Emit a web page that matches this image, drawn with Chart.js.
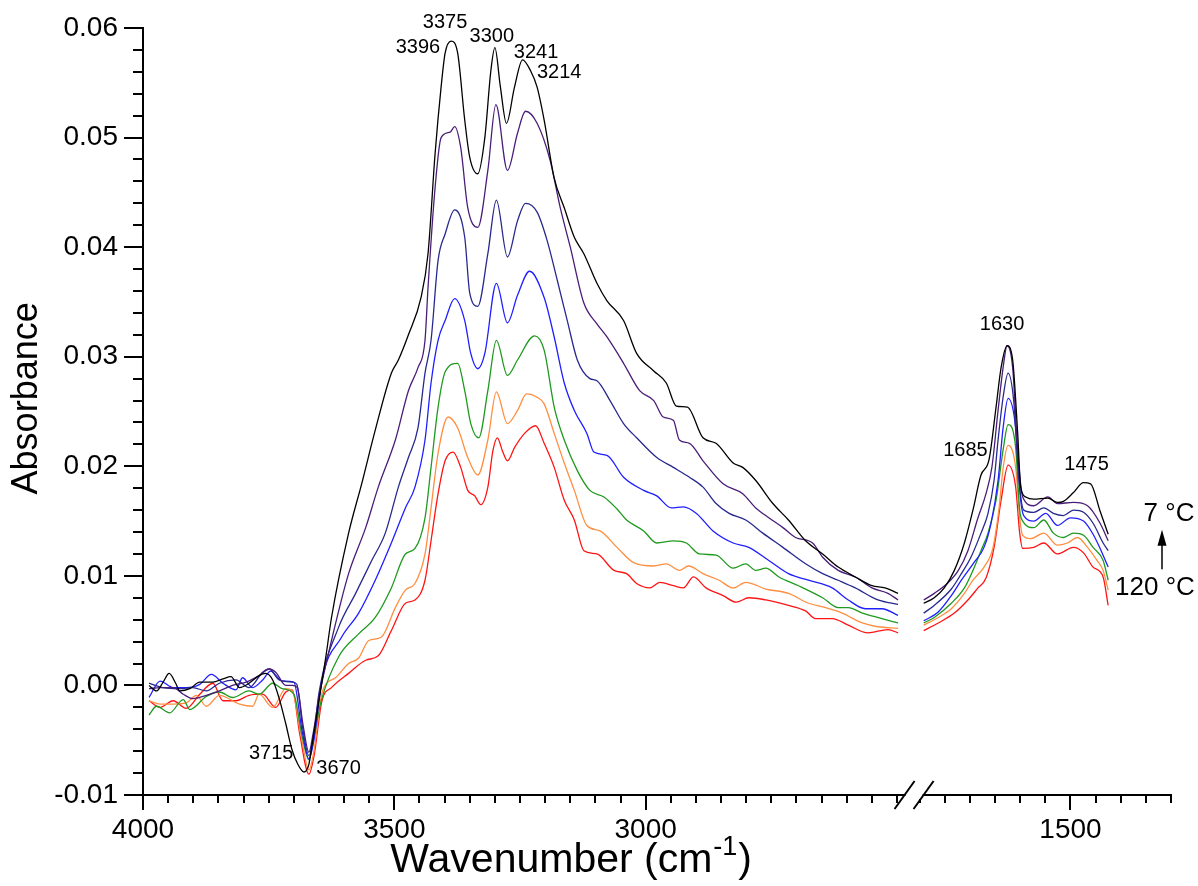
<!DOCTYPE html>
<html lang="en">
<head>
    <script src="https://cdn.jsdelivr.net/npm/chart.js"></script>
    <style>
        body { margin: 0; background: #fff; }
    </style>
</head>
<body>

    <canvas id="irChart" width="1198" height="886"></canvas>

    <script>
        // spectra from 7 °C (top, black) down to 120 °C (bottom, red)
        // each spectrum: [wavenumber, absorbance] for the 4000-2500 part and the 1800-1300 part
        const curveNames = ['7 °C', 'T2', 'T3', 'T4', 'T5', 'T6', '120 °C'];
        const curveColors = ['#000000', '#4a1d78', '#28298e', '#1f1fff', '#1f9a1f', '#ff8f40', '#ff1414'];

        const c1Left = [[3988,0.0000],[3973,-0.0005],[3960,0.0003],[3948,0.0011],[3935,0.0002],[3927,-0.0005],[3907,-0.0003],[3887,0.0003],[3861,0.0003],[3841,0.0006],[3825,0.0008],[3808,-0.0002],[3789,0.0002],[3769,0.0009],[3756,0.0011],[3742,0.0005],[3729,-0.0012],[3716,-0.0035],[3704,-0.0058],[3692,-0.0072],[3680,-0.0079],[3670,-0.0072],[3664,-0.0055],[3650,-0.0014],[3636,0.0027],[3625,0.0062],[3591,0.0139],[3565,0.0184],[3538,0.0233],[3506,0.0285],[3492,0.0297],[3472,0.0320],[3447,0.0354],[3433,0.0394],[3419,0.0485],[3407,0.0546],[3399,0.0577],[3387,0.0588],[3374,0.0577],[3360,0.0516],[3350,0.0482],[3334,0.0467],[3320,0.0500],[3308,0.0561],[3300,0.0582],[3289,0.0546],[3277,0.0513],[3261,0.0546],[3245,0.0571],[3229,0.0561],[3216,0.0546],[3202,0.0516],[3182,0.0463],[3162,0.0436],[3142,0.0409],[3123,0.0394],[3097,0.0367],[3077,0.0351],[3044,0.0333],[3018,0.0303],[2984,0.0287],[2959,0.0276],[2939,0.0255],[2917,0.0254],[2886,0.0226],[2860,0.0221],[2826,0.0203],[2807,0.0199],[2781,0.0187],[2747,0.0166],[2716,0.0151],[2682,0.0132],[2648,0.0120],[2617,0.0108],[2583,0.0099],[2550,0.0091],[2524,0.0089],[2498,0.0084]];
        const c2Left = [[3988,-0.0003],[3966,-0.0002],[3940,-0.0002],[3920,-0.0008],[3901,-0.0012],[3874,-0.0009],[3848,-0.0005],[3822,0.0000],[3795,0.0003],[3769,0.0009],[3749,0.0015],[3736,0.0012],[3716,0.0000],[3703,0.0000],[3693,-0.0002],[3682,-0.0035],[3670,-0.0061],[3662,-0.0045],[3650,-0.0011],[3625,0.0041],[3591,0.0102],[3557,0.0144],[3532,0.0181],[3498,0.0224],[3472,0.0269],[3453,0.0290],[3439,0.0315],[3433,0.0363],[3419,0.0454],[3407,0.0500],[3389,0.0505],[3380,0.0510],[3368,0.0491],[3354,0.0436],[3334,0.0418],[3314,0.0470],[3298,0.0530],[3275,0.0470],[3255,0.0504],[3239,0.0524],[3216,0.0513],[3190,0.0479],[3170,0.0436],[3150,0.0400],[3123,0.0349],[3097,0.0330],[3077,0.0318],[3044,0.0294],[3012,0.0269],[2984,0.0260],[2965,0.0245],[2945,0.0242],[2933,0.0224],[2913,0.0221],[2886,0.0205],[2846,0.0184],[2807,0.0175],[2781,0.0162],[2755,0.0153],[2727,0.0144],[2702,0.0135],[2668,0.0130],[2648,0.0117],[2617,0.0105],[2583,0.0099],[2550,0.0089],[2518,0.0084],[2498,0.0078]];
        const c3Left = [[3988,0.0002],[3960,-0.0002],[3927,-0.0003],[3901,-0.0002],[3874,-0.0005],[3848,0.0002],[3815,0.0005],[3789,-0.0002],[3762,0.0012],[3749,0.0015],[3729,0.0005],[3703,0.0003],[3694,0.0001],[3682,-0.0040],[3670,-0.0064],[3660,-0.0045],[3650,-0.0007],[3611,0.0053],[3577,0.0084],[3545,0.0114],[3518,0.0139],[3492,0.0181],[3472,0.0208],[3453,0.0235],[3439,0.0285],[3427,0.0315],[3413,0.0388],[3399,0.0412],[3380,0.0434],[3360,0.0409],[3350,0.0358],[3334,0.0346],[3314,0.0394],[3297,0.0443],[3275,0.0391],[3255,0.0424],[3239,0.0440],[3216,0.0432],[3196,0.0406],[3176,0.0370],[3156,0.0333],[3136,0.0297],[3111,0.0280],[3097,0.0278],[3071,0.0260],[3044,0.0239],[3018,0.0226],[2978,0.0208],[2945,0.0199],[2913,0.0190],[2886,0.0181],[2860,0.0166],[2834,0.0157],[2801,0.0151],[2767,0.0139],[2727,0.0126],[2682,0.0111],[2648,0.0102],[2617,0.0096],[2583,0.0089],[2538,0.0078],[2498,0.0074]];
        const c4Left = [[3988,-0.0011],[3966,0.0004],[3940,-0.0002],[3914,-0.0002],[3887,0.0001],[3864,0.0010],[3841,0.0002],[3815,-0.0004],[3802,0.0007],[3782,-0.0002],[3762,0.0005],[3746,0.0013],[3723,0.0004],[3700,0.0003],[3684,-0.0040],[3670,-0.0067],[3660,-0.0050],[3644,0.0005],[3605,0.0044],[3571,0.0066],[3538,0.0096],[3506,0.0130],[3478,0.0162],[3459,0.0181],[3439,0.0224],[3427,0.0276],[3413,0.0315],[3399,0.0333],[3380,0.0353],[3360,0.0333],[3348,0.0303],[3334,0.0289],[3320,0.0303],[3297,0.0367],[3275,0.0331],[3255,0.0356],[3231,0.0378],[3202,0.0354],[3182,0.0318],[3162,0.0276],[3142,0.0251],[3117,0.0230],[3103,0.0213],[3077,0.0210],[3044,0.0190],[3004,0.0178],[2978,0.0173],[2949,0.0162],[2925,0.0163],[2899,0.0157],[2866,0.0141],[2826,0.0130],[2795,0.0126],[2755,0.0114],[2716,0.0102],[2676,0.0096],[2629,0.0089],[2597,0.0078],[2563,0.0070],[2530,0.0070],[2498,0.0064]];
        const c5Left = [[3988,-0.0027],[3973,-0.0019],[3947,-0.0025],[3920,-0.0013],[3907,-0.0022],[3874,-0.0010],[3848,-0.0006],[3822,-0.0011],[3789,-0.0005],[3769,-0.0008],[3742,0.0002],[3723,-0.0003],[3700,-0.0008],[3684,-0.0045],[3670,-0.0068],[3662,-0.0052],[3646,-0.0015],[3611,0.0026],[3571,0.0047],[3538,0.0062],[3506,0.0089],[3478,0.0120],[3459,0.0125],[3439,0.0153],[3427,0.0199],[3413,0.0254],[3399,0.0286],[3374,0.0294],[3360,0.0269],[3348,0.0239],[3332,0.0226],[3314,0.0269],[3297,0.0315],[3275,0.0283],[3255,0.0297],[3221,0.0319],[3202,0.0306],[3182,0.0254],[3162,0.0224],[3136,0.0196],[3111,0.0178],[3083,0.0172],[3057,0.0161],[3038,0.0151],[3004,0.0141],[2978,0.0130],[2945,0.0132],[2919,0.0130],[2893,0.0120],[2860,0.0119],[2826,0.0107],[2801,0.0111],[2781,0.0105],[2761,0.0107],[2735,0.0099],[2696,0.0091],[2648,0.0080],[2617,0.0071],[2597,0.0071],[2569,0.0066],[2530,0.0061],[2498,0.0057]];
        const c6Left = [[3988,-0.0014],[3966,-0.0017],[3940,-0.0017],[3914,-0.0016],[3894,-0.0009],[3874,-0.0019],[3848,-0.0009],[3808,-0.0017],[3782,-0.0019],[3769,-0.0008],[3742,-0.0020],[3716,-0.0003],[3703,-0.0005],[3686,-0.0045],[3670,-0.0077],[3660,-0.0060],[3644,-0.0007],[3617,0.0007],[3591,0.0020],[3571,0.0025],[3551,0.0041],[3526,0.0044],[3498,0.0071],[3478,0.0087],[3459,0.0093],[3439,0.0120],[3427,0.0162],[3413,0.0212],[3393,0.0245],[3374,0.0235],[3354,0.0208],[3334,0.0192],[3314,0.0224],[3297,0.0268],[3275,0.0239],[3255,0.0251],[3237,0.0266],[3216,0.0263],[3202,0.0257],[3182,0.0230],[3162,0.0203],[3142,0.0178],[3117,0.0146],[3091,0.0141],[3057,0.0126],[3024,0.0112],[2984,0.0109],[2959,0.0111],[2933,0.0105],[2915,0.0109],[2886,0.0102],[2854,0.0096],[2826,0.0089],[2801,0.0094],[2761,0.0088],[2716,0.0084],[2676,0.0075],[2642,0.0071],[2609,0.0066],[2569,0.0057],[2544,0.0054],[2498,0.0052]];
        const c7Left = [[3988,-0.0014],[3966,-0.0020],[3940,-0.0014],[3914,-0.0021],[3887,-0.0008],[3861,0.0002],[3841,-0.0014],[3815,-0.0014],[3789,-0.0009],[3762,-0.0008],[3736,-0.0020],[3716,-0.0006],[3703,-0.0004],[3688,-0.0045],[3670,-0.0081],[3660,-0.0065],[3644,-0.0014],[3625,-0.0002],[3591,0.0011],[3557,0.0023],[3532,0.0027],[3506,0.0050],[3478,0.0075],[3459,0.0078],[3439,0.0096],[3427,0.0132],[3413,0.0175],[3399,0.0205],[3383,0.0213],[3368,0.0199],[3354,0.0178],[3340,0.0173],[3328,0.0165],[3314,0.0181],[3304,0.0214],[3295,0.0226],[3285,0.0214],[3275,0.0205],[3261,0.0217],[3241,0.0230],[3219,0.0237],[3202,0.0221],[3182,0.0199],[3162,0.0169],[3142,0.0151],[3123,0.0123],[3097,0.0120],[3063,0.0105],[3038,0.0102],[3018,0.0093],[2992,0.0089],[2972,0.0094],[2945,0.0091],[2925,0.0089],[2905,0.0099],[2880,0.0089],[2846,0.0082],[2820,0.0076],[2795,0.0080],[2761,0.0078],[2716,0.0073],[2682,0.0068],[2662,0.0061],[2629,0.0061],[2597,0.0055],[2558,0.0048],[2518,0.0051],[2498,0.0048]];

        const c1Right = [[1792,0.0075],[1771,0.0080],[1751,0.0089],[1731,0.0105],[1711,0.0130],[1694,0.0160],[1678,0.0192],[1662,0.0206],[1648,0.0254],[1638,0.0290],[1626,0.0310],[1615,0.0297],[1605,0.0230],[1599,0.0181],[1589,0.0172],[1573,0.0170],[1545,0.0171],[1526,0.0167],[1514,0.0168],[1494,0.0176],[1474,0.0185],[1460,0.0184],[1441,0.0159],[1425,0.0138]];
        const c2Right = [[1792,0.0078],[1771,0.0084],[1743,0.0094],[1723,0.0105],[1704,0.0123],[1684,0.0153],[1668,0.0175],[1656,0.0200],[1644,0.0251],[1634,0.0290],[1626,0.0310],[1615,0.0290],[1605,0.0214],[1595,0.0172],[1573,0.0164],[1545,0.0172],[1526,0.0166],[1494,0.0167],[1466,0.0164],[1441,0.0148],[1425,0.0132]];
        const c3Right = [[1792,0.0066],[1771,0.0073],[1737,0.0088],[1717,0.0102],[1698,0.0117],[1678,0.0139],[1664,0.0157],[1652,0.0187],[1644,0.0224],[1634,0.0263],[1624,0.0285],[1613,0.0260],[1603,0.0190],[1593,0.0160],[1573,0.0158],[1553,0.0162],[1534,0.0157],[1514,0.0155],[1494,0.0160],[1474,0.0158],[1455,0.0148],[1435,0.0130],[1425,0.0123]];
        const c4Right = [[1792,0.0059],[1763,0.0067],[1737,0.0082],[1717,0.0096],[1692,0.0112],[1672,0.0126],[1658,0.0148],[1644,0.0187],[1634,0.0235],[1624,0.0262],[1609,0.0235],[1599,0.0169],[1593,0.0155],[1573,0.0150],[1549,0.0157],[1526,0.0146],[1500,0.0153],[1474,0.0150],[1455,0.0138],[1441,0.0125],[1425,0.0108]];
        const c5Right = [[1792,0.0057],[1771,0.0062],[1737,0.0075],[1711,0.0089],[1694,0.0105],[1678,0.0123],[1664,0.0139],[1648,0.0169],[1634,0.0215],[1624,0.0238],[1609,0.0217],[1601,0.0160],[1595,0.0150],[1573,0.0144],[1553,0.0151],[1534,0.0139],[1514,0.0135],[1494,0.0139],[1474,0.0137],[1455,0.0126],[1435,0.0114],[1425,0.0096]];
        const c6Right = [[1792,0.0055],[1763,0.0062],[1737,0.0070],[1711,0.0084],[1694,0.0096],[1672,0.0108],[1654,0.0126],[1642,0.0162],[1634,0.0198],[1624,0.0219],[1609,0.0199],[1601,0.0153],[1595,0.0137],[1579,0.0134],[1553,0.0139],[1526,0.0128],[1506,0.0130],[1486,0.0135],[1466,0.0126],[1447,0.0114],[1435,0.0105],[1425,0.0087]];
        const c7Right = [[1792,0.0050],[1763,0.0057],[1731,0.0066],[1704,0.0078],[1684,0.0089],[1668,0.0098],[1652,0.0126],[1638,0.0169],[1624,0.0201],[1609,0.0181],[1601,0.0139],[1595,0.0125],[1573,0.0126],[1553,0.0130],[1526,0.0120],[1494,0.0126],[1474,0.0121],[1455,0.0108],[1435,0.0099],[1425,0.0073]];

        const leftParts = [c1Left, c2Left, c3Left, c4Left, c5Left, c6Left, c7Left];
        const rightParts = [c1Right, c2Right, c3Right, c4Right, c5Right, c6Right, c7Right];

        // labelled ticks
        const leftTickLabels = [4000, 3500, 3000];
        const rightTickLabels = [1500];

        // peak labels, anchored in data units (centre of text)
        const leftPeakText = ['3375', '3396', '3300', '3241', '3214', '3715', '3670'];
        const leftPeakWn = [3399, 3453, 3306, 3218, 3172, 3745, 3611];
        const leftPeakAbs = [0.0605, 0.0582, 0.0592, 0.0578, 0.0559, -0.0062, -0.0076];
        const rightPeakText = ['1630', '1685', '1475'];
        const rightPeakWn = [1636, 1709, 1468];
        const rightPeakAbs = [0.0329, 0.0214, 0.0202];

        const FONT = "'Liberation Sans', Arial, sans-serif";

        const datasets = [];
        leftParts.forEach((d, i) => datasets.push({
            label: curveNames[i], data: d, xAxisID: 'xL', yAxisID: 'y',
            borderColor: curveColors[i], borderWidth: 1.3, pointRadius: 0,
            cubicInterpolationMode: 'monotone', fill: false
        }));
        rightParts.forEach((d, i) => datasets.push({
            label: curveNames[i], data: d, xAxisID: 'xR', yAxisID: 'y',
            borderColor: curveColors[i], borderWidth: 1.3, pointRadius: 0,
            cubicInterpolationMode: 'monotone', fill: false
        }));

        // tick marks (long for labelled ticks), axis break, titles and text labels
        const decor = {
            id: 'decor',
            afterDraw(chart) {
                const ctx = chart.ctx;
                const { y, xL, xR } = chart.scales;
                const line = (x1, y1, x2, y2) => {
                    ctx.beginPath(); ctx.moveTo(x1, y1); ctx.lineTo(x2, y2); ctx.stroke();
                };
                ctx.save();
                ctx.strokeStyle = '#000';
                ctx.lineWidth = 2;
                y.ticks.forEach(t => {
                    const py = Math.round(y.getPixelForValue(t.value));
                    const len = t.label !== '' ? 19 : 10;
                    line(y.right - len, py, y.right, py);
                });
                [xL, xR].forEach(s => s.ticks.forEach(t => {
                    const px = Math.round(s.getPixelForValue(t.value));
                    const len = t.label !== '' ? 15 : 8;
                    line(px, s.top, px, s.top + len);
                }));

                // axis break
                const by = xL.top;
                const bx = xL.right;
                ctx.fillStyle = '#fff';
                ctx.fillRect(bx + 1, by - 4, 17, 8);
                line(bx - 10, by + 14, bx + 10, by - 14);
                line(bx + 9, by + 14, bx + 29, by - 14);

                ctx.fillStyle = '#000';

                // axis titles
                ctx.textBaseline = 'middle';
                ctx.textAlign = 'center';
                ctx.save();
                ctx.translate(27, y.getPixelForValue(0.0262));
                ctx.rotate(-Math.PI / 2);
                ctx.font = '36px ' + FONT;
                ctx.fillText('Absorbance', 0, 0);
                ctx.restore();

                ctx.textAlign = 'left';
                let tx = xL.getPixelForValue(3500) - 4;
                const ty = 861;
                ctx.font = '41px ' + FONT;
                ctx.fillText('Wavenumber (cm', tx, ty);
                tx += ctx.measureText('Wavenumber (cm').width;
                ctx.font = '27px ' + FONT;
                ctx.fillText('-1', tx + 1, ty - 13);
                tx += ctx.measureText('-1').width + 2;
                ctx.font = '41px ' + FONT;
                ctx.fillText(')', tx, ty);

                // peak labels
                ctx.textAlign = 'center';
                ctx.font = '20px ' + FONT;
                leftPeakText.forEach((t, i) => {
                    ctx.fillText(t, xL.getPixelForValue(leftPeakWn[i]), y.getPixelForValue(leftPeakAbs[i]));
                });
                rightPeakText.forEach((t, i) => {
                    ctx.fillText(t, xR.getPixelForValue(rightPeakWn[i]), y.getPixelForValue(rightPeakAbs[i]));
                });

                // temperature direction
                ctx.font = '26px ' + FONT;
                ctx.fillText('7 °C', xR.getPixelForValue(1304), y.getPixelForValue(0.0157));
                ctx.fillText('120 °C', xR.getPixelForValue(1332), y.getPixelForValue(0.0089));
                const ax = Math.round(xR.getPixelForValue(1318));
                const ay0 = y.getPixelForValue(0.0106);
                const ay1 = y.getPixelForValue(0.0142);
                ctx.lineWidth = 1.5;
                line(ax, ay0, ax, ay1 + 12);
                ctx.beginPath();
                ctx.moveTo(ax, ay1);
                ctx.lineTo(ax - 4.5, ay1 + 16);
                ctx.lineTo(ax + 4.5, ay1 + 16);
                ctx.closePath();
                ctx.fill();
                ctx.restore();
            }
        };

        const xTicks = labels => ({
            stepSize: 50,
            includeBounds: false,
            autoSkip: false,
            maxRotation: 0,
            padding: 3,
            color: '#000',
            font: { family: FONT, size: 28 },
            callback: v => (labels.includes(v) ? String(v) : '')
        });
        const hiddenGrid = { drawOnChartArea: false, drawTicks: true, tickLength: 15, color: 'rgba(0,0,0,0)' };

        new Chart(document.getElementById('irChart').getContext('2d'), {
            type: 'line',
            data: { datasets },
            options: {
                responsive: false,
                animation: false,
                events: [],
                devicePixelRatio: 1,
                layout: { padding: { top: 28, right: 27, left: 0, bottom: 0 } },
                plugins: { legend: { display: false }, tooltip: { enabled: false } },
                scales: {
                    xL: {
                        type: 'linear', position: 'bottom', stack: 'wn', stackWeight: 1515,
                        reverse: true, min: 2485, max: 4000,
                        ticks: xTicks(leftTickLabels), grid: hiddenGrid,
                        border: { display: true, color: '#000', width: 2 },
                        afterFit: s => { s.height = 91; }
                    },
                    xR: {
                        type: 'linear', position: 'bottom', stack: 'wn', stackWeight: 530,
                        reverse: true, min: 1300, max: 1830,
                        ticks: xTicks(rightTickLabels), grid: hiddenGrid,
                        border: { display: true, color: '#000', width: 2 },
                        afterFit: s => { s.height = 91; }
                    },
                    y: {
                        type: 'linear', position: 'left', min: -0.01, max: 0.06,
                        ticks: {
                            stepSize: 0.002, autoSkip: false, padding: 6, color: '#000',
                            font: { family: FONT, size: 28 },
                            callback: v => {
                                const h = v * 100;
                                return Math.abs(h - Math.round(h)) < 1e-6 ? (Math.round(h) / 100).toFixed(2) : '';
                            }
                        },
                        grid: { drawOnChartArea: false, drawTicks: true, tickLength: 19, color: 'rgba(0,0,0,0)' },
                        border: { display: true, color: '#000', width: 2 },
                        afterFit: s => { s.width = 143; }
                    }
                }
            },
            plugins: [decor]
        });
    </script>

</body>
</html>
